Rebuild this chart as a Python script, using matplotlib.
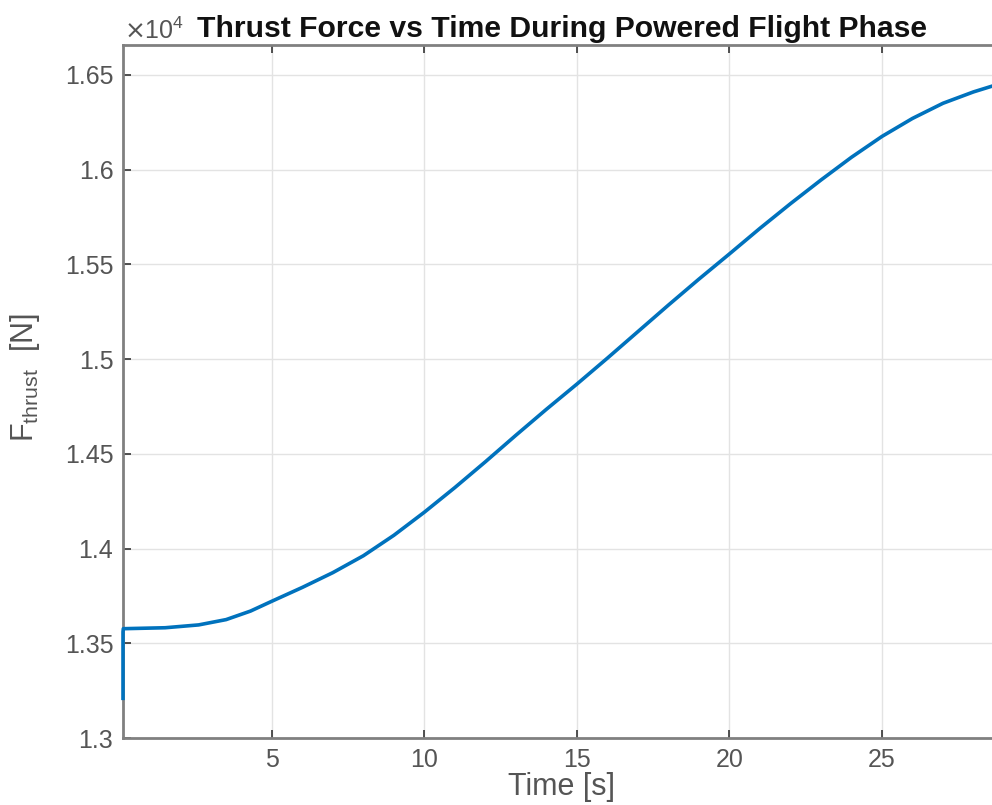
import matplotlib
matplotlib.use("Agg")
import matplotlib.pyplot as plt
from matplotlib.ticker import FuncFormatter, FixedLocator

plt.rcParams['font.family'] = ['Liberation Sans', 'DejaVu Sans']

# Data (time in s, thrust in N)
time_s = [0.12, 0.12, 0.13, 1.5, 2.6, 3.5, 4.3, 5.0, 6.0, 7.0, 8.0, 9.0, 10.0, 11.0, 12.0,
          13.0, 14.0, 15.0, 16.0, 17.0, 18.0, 19.0, 20.0, 21.0, 22.0, 23.0, 24.0, 25.0,
          26.0, 27.0, 28.0, 28.9]
thrust_N = [13200, 13560, 13577, 13582, 13597, 13625, 13670, 13722, 13795, 13873, 13962,
            14070, 14192, 14322, 14458, 14598, 14735, 14868, 15005, 15145, 15285, 15422,
            15555, 15690, 15820, 15945, 16065, 16175, 16270, 16350, 16410, 16455]

yticks = [13000, 13500, 14000, 14500, 15000, 15500, 16000, 16500]
xticks = [5, 10, 15, 20, 25]

fig = plt.figure(figsize=(9.92, 8.05), dpi=100)
ax = fig.add_axes([0.124, 0.0832, 0.885, 0.861])

ax.plot(time_s, thrust_N, color='#0072BD', lw=2.6, solid_capstyle='butt',
        solid_joinstyle='round', zorder=3, clip_on=False)

ax.set_xlim(0.12, 28.9)
ax.set_ylim(13000, 16658)
ax.xaxis.set_major_locator(FixedLocator(xticks))
ax.yaxis.set_major_locator(FixedLocator(yticks))
ax.yaxis.set_major_formatter(FuncFormatter(lambda v, p: '%g' % (v / 1e4)))

tick_col = '#555555'
spine_col = '#808080'
ax.tick_params(direction='in', length=6, width=1.2, color='#333333',
               labelsize=18, labelcolor=tick_col, pad=7, top=True, right=True)
for s in ax.spines.values():
    s.set_color(spine_col)
    s.set_linewidth(2.0)

ax.grid(True, color='#e3e3e3', lw=1.0)
ax.set_axisbelow(True)

ax.set_xlabel('Time [s]', fontsize=22, color=tick_col, labelpad=0)
ax.set_ylabel(r'F$_{\mathregular{thrust}}$  [N]', fontsize=22, color=tick_col, labelpad=16)
ax.yaxis.label.set_y(0.52)
ax.set_title('Thrust Force vs Time During Powered Flight Phase', fontsize=21.7,
             fontweight='bold', color='#111111', pad=6)

fig.text(0.125, 0.962, r'$\times\mathregular{10^4}$', fontsize=18, color=tick_col,
         ha='left', va='center')

fig.savefig('out.png', dpi=100)
